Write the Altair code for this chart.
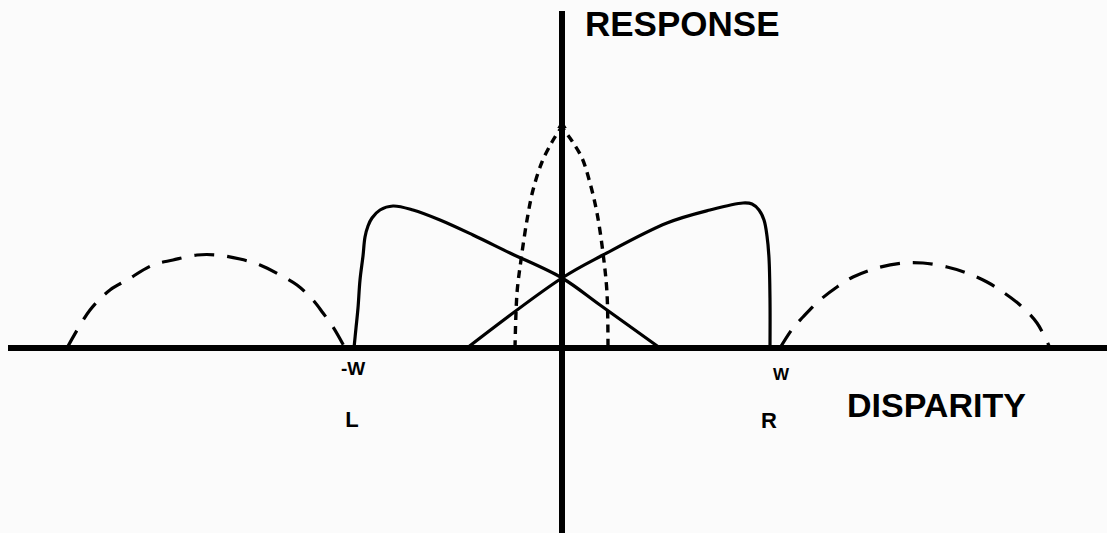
import altair as alt
import pandas as pd

# Disparity (horizontal) and response (vertical) in the figure's own units;
# the origin is where the two axes cross, W sits at +/-208.
x_min, x_max = -562, 545
y_min, y_max = -185, 348

# Left-eye tuning curve (L): steep rise at -W, slow fall through zero
l_x = [-208, -206, -204, -202, -199, -197, -194, -190, -182, -169, -149, -122, -89, -52, 0, 38, 98]
l_y = [0, 20, 40, 68, 92, 111, 122, 130, 138, 142, 138, 128, 113, 95, 70, 43, 0]

# Right-eye tuning curve (R): slow rise, steep fall at +W
r_x = [-95, 0, 41, 105, 148, 181, 190, 197, 202, 205, 207, 208, 208]
r_y = [0, 70, 93, 125, 138, 145, 144, 138, 128, 112, 90, 48, 0]

# Narrow tuned-zero curve (dotted)
z_x = [-47, -45, -41, -35, -29, -20, -10, -5, 0, 5, 10, 20, 28, 35, 41, 45, 46]
z_y = [0, 55, 88, 128, 158, 186, 206, 214, 220, 214, 207, 190, 165, 135, 95, 55, 0]

# Outer lobes beyond +/-W (dashed)
ln_x = [-495, -472, -452, -435, -409, -389, -365, -345, -322, -302, -282, -265, -249, -239, -229, -217]
ln_y = [0, 38, 58, 68, 83, 88, 93, 93, 89, 83, 73, 63, 48, 35, 21, 0]
rn_x = [218, 231, 241, 258, 275, 291, 315, 341, 361, 385, 405, 425, 438, 458, 475, 488]
rn_y = [0, 20, 31, 48, 61, 71, 80, 85, 85, 81, 75, 66, 58, 43, 25, 0]

# Labels
lbl_text = ["RESPONSE", "DISPARITY", "-W", "W", "L", "R"]
lbl_x = [23, 285, -209, 219, -210, 207]
lbl_y = [312, -69, -27, -32, -79, -80]
lbl_size = [35, 34, 19, 17, 22, 22]
lbl_align = ["left", "left", "center", "center", "center", "center"]


def curve(xs, ys, name):
    return pd.DataFrame({"d": xs, "r": ys, "i": range(len(xs)), "s": name})


xs = alt.Scale(domain=[x_min, x_max], nice=False, zero=False)
ys = alt.Scale(domain=[y_min, y_max], nice=False, zero=False)
X = alt.X("d:Q", scale=xs, axis=None)
Y = alt.Y("r:Q", scale=ys, axis=None)

axes_df = pd.DataFrame({"d": [-554, 0], "d2": [x_max, 0], "r": [0, y_min], "r2": [0, 337]})
axes = alt.Chart(axes_df).mark_rule(color="black", strokeWidth=6, strokeCap="butt").encode(
    x=X, x2="d2:Q", y=Y, y2="r2:Q"
)


def line(df, dash=None, width=3.2):
    kw = dict(color="black", strokeWidth=width, interpolate="catmull-rom", strokeCap="butt")
    if dash:
        kw["strokeDash"] = dash
    return alt.Chart(df).mark_line(**kw).encode(x=X, y=Y, order="i:Q")


left_curve = line(curve(l_x, l_y, "L"))
right_curve = line(curve(r_x, r_y, "R"))
zero_curve = line(curve(z_x, z_y, "0"), dash=[8, 6], width=3.4)
left_lobe = line(curve(ln_x, ln_y, "nl"), dash=[20, 13], width=3.2)
right_lobe = line(curve(rn_x, rn_y, "nr"), dash=[20, 13], width=3.2)

arrow = alt.Chart(pd.DataFrame({"d": [0], "r": [224]})).mark_point(
    shape="triangle-up", filled=True, color="black", size=90, opacity=1
).encode(x=X, y=Y)

labels = []
for t, lx, ly, sz, al in zip(lbl_text, lbl_x, lbl_y, lbl_size, lbl_align):
    labels.append(
        alt.Chart(pd.DataFrame({"d": [lx], "r": [ly], "t": [t]})).mark_text(
            font="Liberation Sans", fontWeight="bold", fontSize=sz, align=al,
            baseline="alphabetic", color="black"
        ).encode(x=X, y=Y, text="t:N")
    )

chart = alt.layer(
    axes, left_lobe, right_lobe, left_curve, right_curve, zero_curve, arrow, *labels
).properties(
    width=1107, height=533, background="#fbfbfb", padding=0,
    autosize=alt.AutoSizeParams(type="none")
).configure_view(stroke=None)

chart.save("out.html", embed_options={"renderer": "svg", "actions": False})
